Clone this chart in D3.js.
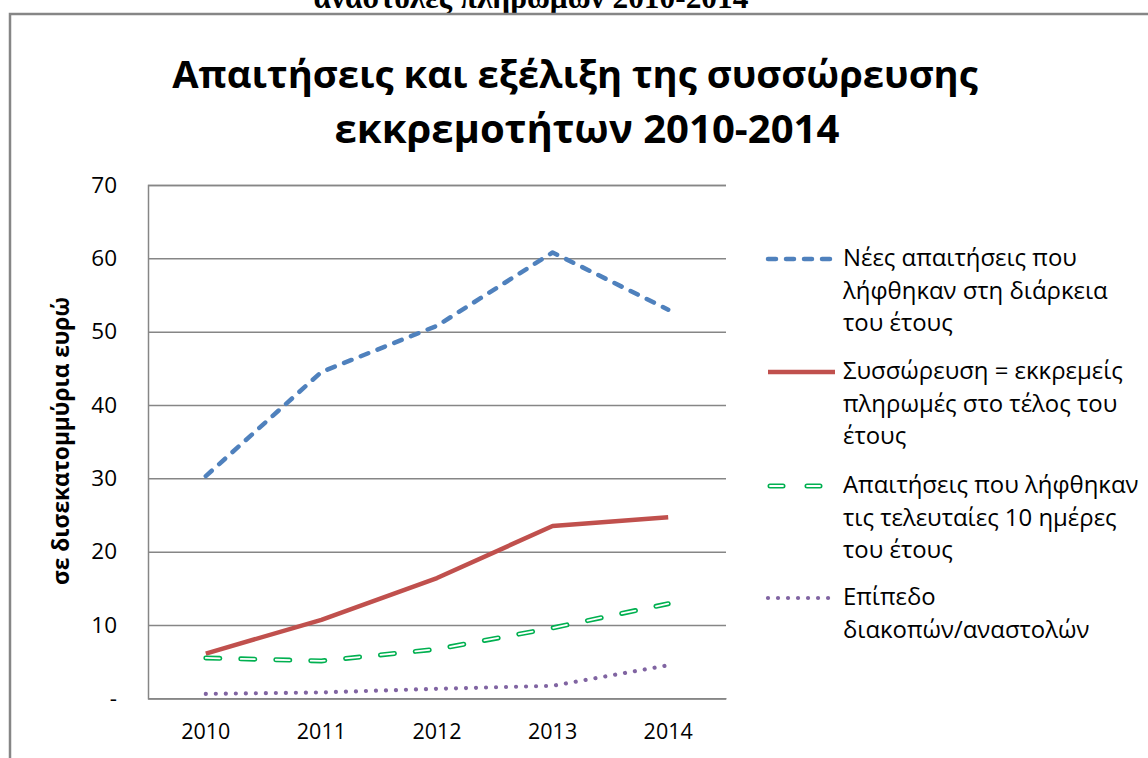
<!DOCTYPE html>
<html><head><meta charset="utf-8">
<script src="https://cdn.jsdelivr.net/npm/d3@7"></script>
<style>body{margin:0;background:#fff} svg{display:block}</style></head><body>
<svg id="c" width="1148" height="758"></svg>
<script>
const years = ["2010","2011","2012","2013","2014"];
const newClaims = [30.3, 44.5, 50.8, 60.8, 53.0];
const accumulation = [6.1, 10.7, 16.4, 23.5, 24.7];
const last10Days = [5.5, 5.1, 6.7, 9.6, 12.9];
const suspensions = [0.6, 0.8, 1.3, 1.7, 4.5];
const yTicks = [0,10,20,30,40,50,60,70];
const yTickLabels = ["-","10","20","30","40","50","60","70"];
const legendNames = [
  ["Νέες απαιτήσεις που","λήφθηκαν στη διάρκεια","του έτους"],
  ["Συσσώρευση = εκκρεμείς","πληρωμές στο τέλος του","έτους"],
  ["Απαιτήσεις που λήφθηκαν","τις τελευταίες 10 ημέρες","του έτους"],
  ["Επίπεδο","διακοπών/αναστολών"]
];
const titleLines = ["Απαιτήσεις και εξέλιξη της συσσώρευσης","εκκρεμοτήτων 2010-2014"];
const topCutText = "αναστολές πληρωμών 2010-2014";
const yAxisLabel = "σε δισεκατομμύρια ευρώ";

const FONT = "'Open Sans', 'Noto Sans', sans-serif";
const svg = d3.select("#c");

function fitWidth(sel, target){
  const w = sel.node().getComputedTextLength();
  const fs = parseFloat(sel.attr("font-size"));
  sel.attr("font-size", fs*target/w);
  return fs*target/w;
}

// cut-off heading above frame (as in the reference)
const tc = svg.append("text").text(topCutText).attr("x",531).attr("y",8)
  .attr("text-anchor","middle").attr("font-family","'Liberation Serif', serif")
  .attr("font-weight","bold").attr("font-size",26).attr("fill","#000");
fitWidth(tc, 435);

// frame
svg.append("rect").attr("x",10).attr("y",14).attr("width",1160).attr("height",770)
  .attr("fill","none").attr("stroke","#868686").attr("stroke-width",2.5);

// title
const t1 = svg.append("text").text(titleLines[0]).attr("x",575).attr("y",88)
  .attr("text-anchor","middle").attr("font-family",FONT).attr("font-weight","bold")
  .attr("font-size",44).attr("fill","#000");
fitWidth(t1, 806);
const t2 = svg.append("text").text(titleLines[1]).attr("x",587).attr("y",143)
  .attr("text-anchor","middle").attr("font-family",FONT).attr("font-weight","bold")
  .attr("font-size",44).attr("fill","#000");
fitWidth(t2, 505);

const x = d3.scaleBand().domain(years).range([148,726]);
const y = d3.scaleLinear().domain([0,70]).range([698.3,185]);
const cx = d => x(d)+x.bandwidth()/2;

// y axis with gridlines
const ya = svg.append("g").attr("transform","translate(148,0)")
  .call(d3.axisLeft(y).tickValues(yTicks).tickSize(-578).tickPadding(31)
    .tickFormat((d,i)=>yTickLabels[i]));
ya.select(".domain").attr("stroke","#868686").attr("stroke-width",1.5);
ya.selectAll(".tick line").attr("stroke","#868686").attr("stroke-width",1.5);
ya.selectAll(".tick text").attr("font-family",FONT).attr("font-size",22.5).attr("fill","#000");

// x axis
const xa = svg.append("g").attr("transform","translate(0,698.3)")
  .call(d3.axisBottom(x).tickSize(0).tickPadding(25));
xa.select(".domain").attr("stroke","#868686").attr("stroke-width",1.5);
xa.selectAll(".tick text").attr("font-family",FONT).attr("font-size",21.5).attr("fill","#000");

// y label
const yl = svg.append("text").text(yAxisLabel).attr("transform","translate(69,441) rotate(-90)")
  .attr("text-anchor","middle").attr("font-family",FONT).attr("font-weight","bold")
  .attr("font-size",19).attr("fill","#000");
fitWidth(yl, 288);

const line = d3.line().x((d,i)=>cx(years[i])).y(d=>y(d));

const styles = [
  [{stroke:"#4f81bd", w:4.5, dash:"8,10"}],
  [{stroke:"#c0504d", w:4.5, dash:null}],
  [{stroke:"#00b050", w:5, dash:"14,21"},{stroke:"#ffffff", w:1.8, dash:"14,21"}],
  [{stroke:"#8064a2", w:4.2, dash:"0.01,10"}]
];
const allSeries = [newClaims, accumulation, last10Days, suspensions];

allSeries.forEach((s,k)=>{
  styles[k].forEach(st=>{
    svg.append("path").datum(s).attr("d",line).attr("fill","none")
      .attr("stroke",st.stroke).attr("stroke-width",st.w)
      .attr("stroke-linecap", k===1 ? "butt" : "round")
      .attr("stroke-linejoin","round")
      .attr("stroke-dasharray",st.dash);
  });
});

// legend font size fitted to the widest line
const probe = svg.append("text").text(legendNames[1][0]).attr("font-family",FONT).attr("font-size",21);
const legFs = fitWidth(probe, 280);
probe.remove();

const legendY = [259, 372, 486, 598];
legendNames.forEach((lines,k)=>{
  styles[k].forEach(st=>{
    let dash = st.dash;
    if(k===2) dash = "13,24";
    svg.append("line").attr("x1",768+(k===2?2:0)).attr("x2",835)
      .attr("y1",legendY[k]).attr("y2",legendY[k])
      .attr("stroke",st.stroke).attr("stroke-width",st.w)
      .attr("stroke-linecap", k===1 ? "butt" : "round")
      .attr("stroke-dasharray",dash);
  });
  lines.forEach((ln,j)=>{
    svg.append("text").text(ln).attr("x",843).attr("y",legendY[k]+7+j*32.5)
      .attr("font-family",FONT).attr("font-size",legFs).attr("fill","#000");
  });
});
</script>
</body></html>
